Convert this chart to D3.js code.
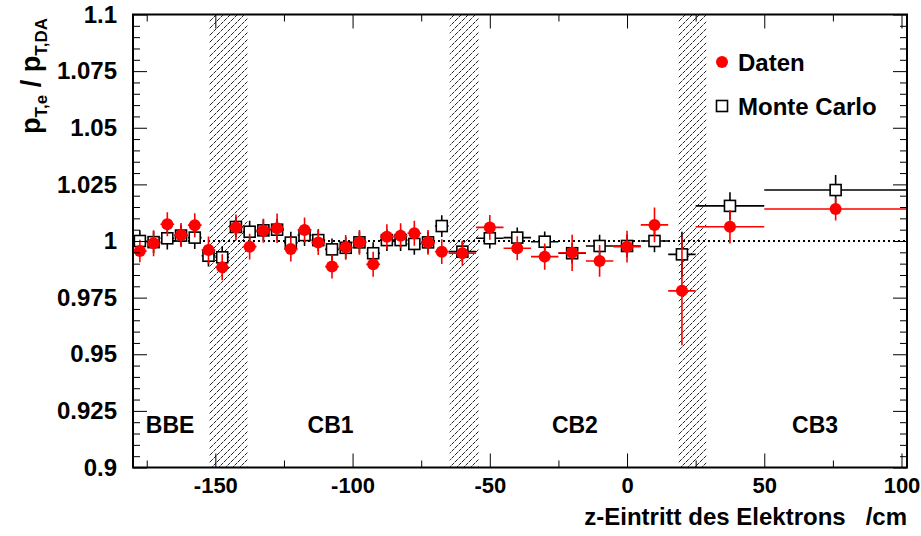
<!DOCTYPE html>
<html>
<head>
<meta charset="utf-8">
<script src="https://cdn.jsdelivr.net/npm/d3@7"></script>
<style>
  body { margin: 0; background: #fff; overflow: hidden; }
  svg { display: block; }
  svg text { font-family: "Liberation Sans", Arial, Helvetica, sans-serif; font-weight: bold; fill: #000; }
</style>
</head>
<body>
<svg id="chart" width="921" height="536"></svg>
<script>
// Bin edges in z (cm)
const zLow  = [-180, -175, -170, -165, -160, -155, -150, -145, -140, -135, -130, -125,
               -120, -115, -110, -105, -100, -95, -90, -85, -80, -75, -70,
               -65, -55, -45, -35, -25, -15, -5, 5, 15, 25, 50];
const zHigh = [-175, -170, -165, -160, -155, -150, -145, -140, -135, -130, -125, -120,
               -115, -110, -105, -100, -95, -90, -85, -80, -75, -70, -65,
               -55, -45, -35, -25, -15, -5, 5, 15, 25, 50, 102];

// Daten (data)
const datenVal = [0.9956, 0.9990, 1.0074, 1.0026, 1.0070, 0.9960, 0.9884, 1.0060, 0.9975, 1.0045, 1.0056, 0.9965,
                  1.0049, 0.9993, 0.9887, 0.9972, 0.9994, 0.9897, 1.0019, 1.0023, 1.0034, 0.9994, 0.9953,
                  0.9946, 1.0060, 0.9968, 0.9931, 0.9948, 0.9912, 0.9975, 1.0071, 0.9780, 1.0063, 1.0141];
const datenErr = [0.0050, 0.0057, 0.0053, 0.0053, 0.0053, 0.0060, 0.0057, 0.0057, 0.0057, 0.0053, 0.0065, 0.0055,
                  0.0055, 0.0055, 0.0053, 0.0055, 0.0055, 0.0055, 0.0055, 0.0055, 0.0055, 0.0055, 0.0055,
                  0.0055, 0.0055, 0.0053, 0.0058, 0.0080, 0.0070, 0.0070, 0.0077, 0.0240, 0.0074, 0.0050];

// Monte Carlo
const mcVal = [1.0000, 0.9995, 1.0012, 1.0024, 1.0015, 0.9935, 0.9928, 1.0062, 1.0041, 1.0047, 1.0050, 0.9993,
               1.0026, 1.0004, 0.9963, 0.9970, 0.9994, 0.9946, 1.0004, 1.0004, 0.9987, 0.9994, 1.0066,
               0.9953, 1.0012, 1.0015, 0.9997, 0.9946, 0.9978, 0.9978, 1.0000, 0.9941, 1.0155, 1.0225];
const mcErr = [0.0048, 0.0048, 0.0050, 0.0048, 0.0050, 0.0048, 0.0048, 0.0045, 0.0048, 0.0048, 0.0048, 0.0048,
               0.0048, 0.0048, 0.0048, 0.0048, 0.0048, 0.0048, 0.0048, 0.0048, 0.0048, 0.0048, 0.0048,
               0.0045, 0.0045, 0.0045, 0.0045, 0.0045, 0.0050, 0.0050, 0.0050, 0.0100, 0.0060, 0.0066];

// Dead zones between calorimeter modules (cm)
const gapLow  = [-152.3, -64.6, 18.7];
const gapHigh = [-138.3, -54.1, 29.0];

// Module labels and where they sit (cm)
const regionNames = ["BBE", "CB1", "CB2", "CB3"];
const regionZ = [-166.5, -108, -19, 68.5];

const xMajor = [-150, -100, -50, 0, 50, 100];
const xLabels = ["-150", "-100", "-50", "0", "50", "100"];
const xMinor = [-175, -125, -75, -25, 25, 75];
const yMajor = [0.9, 0.925, 0.95, 0.975, 1, 1.025, 1.05, 1.075, 1.1];
const yLabels = ["0.9", "0.925", "0.95", "0.975", "1", "1.025", "1.05", "1.075", "1.1"];

const svg = d3.select("#chart");
const width = 921, height = 536;
const margin = { top: 14.5, right: 14, bottom: 68.5, left: 133 };
const innerWidth = width - margin.left - margin.right;
const innerHeight = height - margin.top - margin.bottom;

const x = d3.scaleLinear().domain([-180, 102]).range([margin.left, margin.left + innerWidth]);
const y = d3.scaleLinear().domain([0.9, 1.1]).range([margin.top + innerHeight, margin.top]);

// minor y ticks every 0.005
const yMinor = d3.range(0, 41).map(i => 0.9 + i * 0.005).filter(v => !yMajor.some(m => Math.abs(m - v) < 1e-9));

const defs = svg.append("defs");
defs.append("clipPath").attr("id", "plotclip")
  .append("rect")
  .attr("x", margin.left).attr("y", margin.top)
  .attr("width", innerWidth).attr("height", innerHeight);

const hatch = defs.append("pattern")
  .attr("id", "hatch")
  .attr("patternUnits", "userSpaceOnUse")
  .attr("width", 7).attr("height", 7);
hatch.append("path")
  .attr("d", "M-1,1 L1,-1 M0,7 L7,0 M6,8 L8,6")
  .attr("stroke", "#222")
  .attr("stroke-width", 1)
  .attr("stroke-dasharray", "4,1");

const plot = svg.append("g").attr("clip-path", "url(#plotclip)");

// Hatched dead zones
plot.selectAll("rect.gap")
  .data(gapLow.map((lo, i) => ({ lo, hi: gapHigh[i] })))
  .join("rect")
  .attr("class", "gap")
  .attr("x", d => x(d.lo))
  .attr("width", d => x(d.hi) - x(d.lo))
  .attr("y", margin.top)
  .attr("height", innerHeight)
  .attr("fill", "url(#hatch)");

// Reference line at 1
plot.append("line")
  .attr("x1", x(-180)).attr("x2", x(102))
  .attr("y1", y(1)).attr("y2", y(1))
  .attr("stroke", "#000")
  .attr("stroke-width", 2)
  .attr("stroke-dasharray", "2,3");

function drawSeries(vals, errs, color) {
  const pts = vals.map((v, i) => ({ v, e: errs[i], lo: zLow[i], hi: zHigh[i], c: (zLow[i] + zHigh[i]) / 2 }));
  const g = plot.append("g");
  g.selectAll("line.h")
    .data(pts).join("line")
    .attr("class", "h")
    .attr("x1", d => x(d.lo)).attr("x2", d => x(d.hi))
    .attr("y1", d => y(d.v)).attr("y2", d => y(d.v))
    .attr("stroke", color).attr("stroke-width", 1.6);
  g.selectAll("line.v")
    .data(pts).join("line")
    .attr("class", "v")
    .attr("x1", d => x(d.c)).attr("x2", d => x(d.c))
    .attr("y1", d => y(d.v - d.e)).attr("y2", d => y(d.v + d.e))
    .attr("stroke", color).attr("stroke-width", 1.6);
  return { g, pts };
}

// Monte Carlo: open squares
const mc = drawSeries(mcVal, mcErr, "#000");
mc.g.selectAll("rect")
  .data(mc.pts).join("rect")
  .attr("x", d => x(d.c) - 5.5).attr("y", d => y(d.v) - 5.5)
  .attr("width", 11).attr("height", 11)
  .attr("fill", "#fff").attr("stroke", "#000").attr("stroke-width", 1.6);

// Daten: filled red circles
const da = drawSeries(datenVal, datenErr, "#ff0000");
da.g.selectAll("circle")
  .data(da.pts).join("circle")
  .attr("cx", d => x(d.c)).attr("cy", d => y(d.v))
  .attr("r", 6)
  .attr("fill", "#ff0000");

// Axes (ticks inside the frame, on all sides)
const axBottom = svg.append("g").attr("transform", `translate(0,${margin.top + innerHeight})`);
axBottom.call(d3.axisBottom(x).tickValues(xMajor).tickSizeInner(-14).tickSizeOuter(0).tickPadding(10)
  .tickFormat((d, i) => xLabels[i]));
axBottom.selectAll(".tick text").attr("font-size", 22);
const axBottomMinor = svg.append("g").attr("transform", `translate(0,${margin.top + innerHeight})`)
  .call(d3.axisBottom(x).tickValues(xMinor).tickSizeInner(-7).tickSizeOuter(0));

const axTop = svg.append("g").attr("transform", `translate(0,${margin.top})`)
  .call(d3.axisTop(x).tickValues(xMajor).tickSizeInner(-14).tickSizeOuter(0));
const axTopMinor = svg.append("g").attr("transform", `translate(0,${margin.top})`)
  .call(d3.axisTop(x).tickValues(xMinor).tickSizeInner(-7).tickSizeOuter(0));

const axLeft = svg.append("g").attr("transform", `translate(${margin.left},0)`);
axLeft.call(d3.axisLeft(y).tickValues(yMajor).tickSizeInner(-14).tickSizeOuter(0).tickPadding(16)
  .tickFormat((d, i) => yLabels[i]));
axLeft.selectAll(".tick text").attr("font-size", 24);
const axLeftMinor = svg.append("g").attr("transform", `translate(${margin.left},0)`)
  .call(d3.axisLeft(y).tickValues(yMinor).tickSizeInner(-7).tickSizeOuter(0));

const axRight = svg.append("g").attr("transform", `translate(${margin.left + innerWidth},0)`)
  .call(d3.axisRight(y).tickValues(yMajor).tickSizeInner(-14).tickSizeOuter(0));
const axRightMinor = svg.append("g").attr("transform", `translate(${margin.left + innerWidth},0)`)
  .call(d3.axisRight(y).tickValues(yMinor).tickSizeInner(-7).tickSizeOuter(0));

// unlabelled axes keep only their tick marks
[axBottomMinor, axTop, axTopMinor, axLeftMinor, axRight, axRightMinor].forEach(a => a.selectAll("text").remove());

svg.selectAll(".domain").remove();
svg.selectAll(".tick line").attr("stroke", "#000").attr("stroke-width", 1);
svg.selectAll(".tick text").style("font-family", "'Liberation Sans', Arial, sans-serif").style("font-weight", "bold");

// Frame
svg.append("rect")
  .attr("x", margin.left).attr("y", margin.top)
  .attr("width", innerWidth).attr("height", innerHeight)
  .attr("fill", "none").attr("stroke", "#000").attr("stroke-width", 2);

// Module labels
svg.selectAll("text.region")
  .data(regionNames)
  .join("text")
  .attr("class", "region")
  .attr("x", (d, i) => x(regionZ[i]))
  .attr("y", 433)
  .attr("text-anchor", "middle")
  .attr("font-size", 23)
  .text(d => d);

// Axis titles
svg.append("text")
  .attr("x", margin.left + innerWidth)
  .attr("y", 525)
  .attr("text-anchor", "end")
  .attr("font-size", 24)
  .style("white-space", "pre")
  .text("z-Eintritt des Elektrons   /cm");

const yTitle = svg.append("text")
  .attr("transform", `translate(40,18) rotate(-90)`)
  .attr("text-anchor", "end")
  .attr("font-size", 27);
yTitle.append("tspan").text("p");
yTitle.append("tspan").attr("dy", 7).attr("font-size", 17).text("T,e");
yTitle.append("tspan").attr("dy", -7).style("white-space", "pre").text(" / p");
yTitle.append("tspan").attr("dy", 7).attr("font-size", 17).text("T,DA");

// Legend
const legend = svg.append("g");
legend.append("circle").attr("cx", 722).attr("cy", 62).attr("r", 6).attr("fill", "#ff0000");
legend.append("text").attr("x", 738).attr("y", 62).attr("dy", "0.36em").attr("font-size", 24).text("Daten");
legend.append("rect").attr("x", 716.5).attr("y", 100.5).attr("width", 11).attr("height", 11)
  .attr("fill", "#fff").attr("stroke", "#000").attr("stroke-width", 1.6);
legend.append("text").attr("x", 738).attr("y", 106).attr("dy", "0.36em").attr("font-size", 24).text("Monte Carlo");
</script>
</body>
</html>
